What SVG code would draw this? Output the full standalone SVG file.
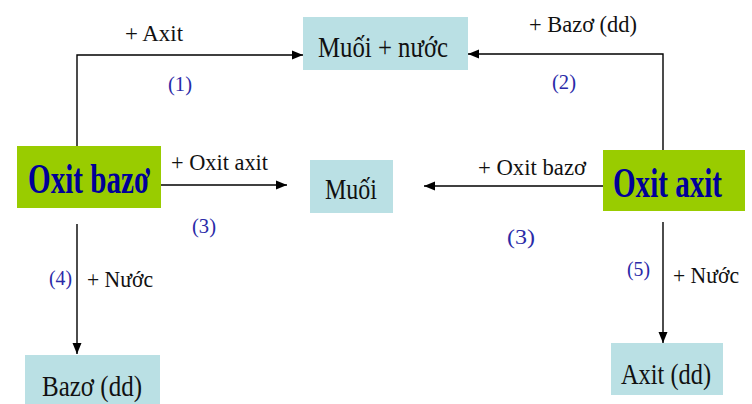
<svg xmlns="http://www.w3.org/2000/svg" width="752" height="404" viewBox="0 0 752 404">
<defs>
<marker id="ah" markerUnits="userSpaceOnUse" markerWidth="12" markerHeight="10" viewBox="0 0 12 10" refX="11" refY="5" orient="auto">
<path d="M0,0.5 L11,5 L0,9.5 Z" fill="#000"/>
</marker>
</defs>
<style>
.box{fill:#BAE0E4;}
.grn{fill:#99CC00;}
text{font-family:'Liberation Serif','Tinos','DejaVu Serif',serif;}
.lbl{font-size:29px;fill:#111;}
.big{font-size:42px;font-weight:bold;fill:#000099;}
.edge{font-size:24px;fill:#111;}
.num{font-size:22px;fill:#2a2aa8;}
.ln{fill:none;stroke:#000;stroke-width:1.4;marker-end:url(#ah);}
</style>
<rect width="752" height="404" fill="#fff"/>
<g id="connectors">
<path class="ln" d="M77,147 V55 H303"/>
<path class="ln" d="M663,151 V54 H468"/>
<path class="ln" d="M161,185 H287" stroke="#333"/>
<path class="ln" d="M603,186 H424" stroke="#333"/>
<path class="ln" d="M77,224 V354"/>
<path class="ln" d="M663,222 V343"/>
<text class="edge" x="125" y="41" textLength="58" lengthAdjust="spacingAndGlyphs">+ Axit</text>
<text class="num" x="168" y="91" textLength="24" lengthAdjust="spacingAndGlyphs">(1)</text>
<text class="edge" x="529" y="32" textLength="108" lengthAdjust="spacingAndGlyphs">+ Bazơ (dd)</text>
<text class="num" x="552" y="89" textLength="24" lengthAdjust="spacingAndGlyphs">(2)</text>
<text class="edge" x="171" y="170" textLength="97" lengthAdjust="spacingAndGlyphs">+ Oxit axit</text>
<text class="num" x="192" y="233" textLength="24" lengthAdjust="spacingAndGlyphs">(3)</text>
<text class="edge" x="478" y="175" textLength="108" lengthAdjust="spacingAndGlyphs">+ Oxit bazơ</text>
<text class="num" x="507" y="244" textLength="28" lengthAdjust="spacingAndGlyphs">(3)</text>
<text class="num" x="49" y="285" textLength="23" lengthAdjust="spacingAndGlyphs">(4)</text>
<text class="edge" x="87" y="287" textLength="66" lengthAdjust="spacingAndGlyphs">+ Nước</text>
<text class="num" x="627" y="276" textLength="23" lengthAdjust="spacingAndGlyphs">(5)</text>
<text class="edge" x="673" y="283" textLength="66" lengthAdjust="spacingAndGlyphs">+ Nước</text>
</g>
<g id="muoi-nuoc">
<rect class="box" x="303" y="17" width="165" height="53"/>
<text class="lbl" x="318" y="57" textLength="130" lengthAdjust="spacingAndGlyphs">Muối + nước</text>
</g>
<g id="muoi">
<rect class="box" x="310" y="160" width="83" height="53"/>
<text class="lbl" x="325" y="199" textLength="52" lengthAdjust="spacingAndGlyphs">Muối</text>
</g>
<g id="oxit-bazo">
<rect class="grn" x="17" y="146" width="144" height="62"/>
<text class="big" x="28" y="193" textLength="122" lengthAdjust="spacingAndGlyphs">Oxit bazơ</text>
</g>
<g id="oxit-axit">
<rect class="grn" x="603" y="150" width="142" height="61"/>
<text class="big" x="613" y="197" textLength="109" lengthAdjust="spacingAndGlyphs">Oxit axit</text>
</g>
<g id="bazo-dd">
<rect class="box" x="25" y="355" width="135" height="49"/>
<text class="lbl" x="42" y="396" textLength="100" lengthAdjust="spacingAndGlyphs">Bazơ (dd)</text>
</g>
<g id="axit-dd">
<rect class="box" x="611" y="343" width="112" height="52"/>
<text class="lbl" x="621" y="384" textLength="90" lengthAdjust="spacingAndGlyphs">Axit (dd)</text>
</g>
</svg>
